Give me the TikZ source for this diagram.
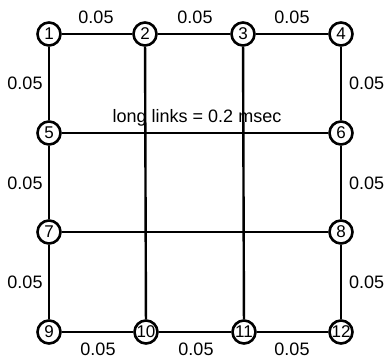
\documentclass[tikz,border=0pt]{standalone}
\usepackage{fontspec}
\setmainfont{Liberation Sans}
\begin{document}
\begin{tikzpicture}[x=1pt,y=-1pt,
  nd/.style={circle,draw,fill=white,line width=2.6pt,minimum size=23pt,inner sep=0pt,font=\fontsize{17}{17}\selectfont},
  lk/.style={line width=2.4pt},
  lb/.style={font=\fontsize{18}{18}\selectfont,inner sep=0pt}]
\useasboundingbox (0,0) rectangle (385,359);
\node[nd] (n1) at (49,34) {1};
\node[nd] (n2) at (145,34) {2};
\node[nd] (n3) at (243,34) {3};
\node[nd] (n4) at (341,34) {4};
\node[nd] (n5) at (49,133) {5};
\node[nd] (n6) at (341,133) {6};
\node[nd] (n7) at (49,232) {7};
\node[nd] (n8) at (341,232) {8};
\node[nd] (n9) at (49,332) {9};
\node[nd] (n10) at (146,332) {10};
\node[nd] (n11) at (244,332) {11};
\node[nd] (n12) at (341,332) {12};
\foreach \a/\b in {n1/n2,n2/n3,n3/n4,n1/n5,n5/n7,n7/n9,n4/n6,n6/n8,n8/n12,n9/n10,n10/n11,n11/n12,n5/n6,n7/n8,n2/n10,n3/n11}
  \draw[lk] (\a) -- (\b);
\node[lb] (t1) at (96,17) {0.05};
\node[lb] (t2) at (195,17) {0.05};
\node[lb] (t3) at (292,17) {0.05};
\node[lb] (l1) at (25,83) {0.05};
\node[lb] (l2) at (25,183) {0.05};
\node[lb] (l3) at (25,282) {0.05};
\node[lb,anchor=west] (r1) at (349,83) {0.05};
\node[lb,anchor=west] (r2) at (349,183) {0.05};
\node[lb,anchor=west] (r3) at (349,282) {0.05};
\node[lb] (b1) at (98,349) {0.05};
\node[lb] (b2) at (196,349) {0.05};
\node[lb] (b3) at (292,349) {0.05};
\node[lb] (ll) at (197,118) {long links = 0.2 msec};
\end{tikzpicture}
\end{document}
